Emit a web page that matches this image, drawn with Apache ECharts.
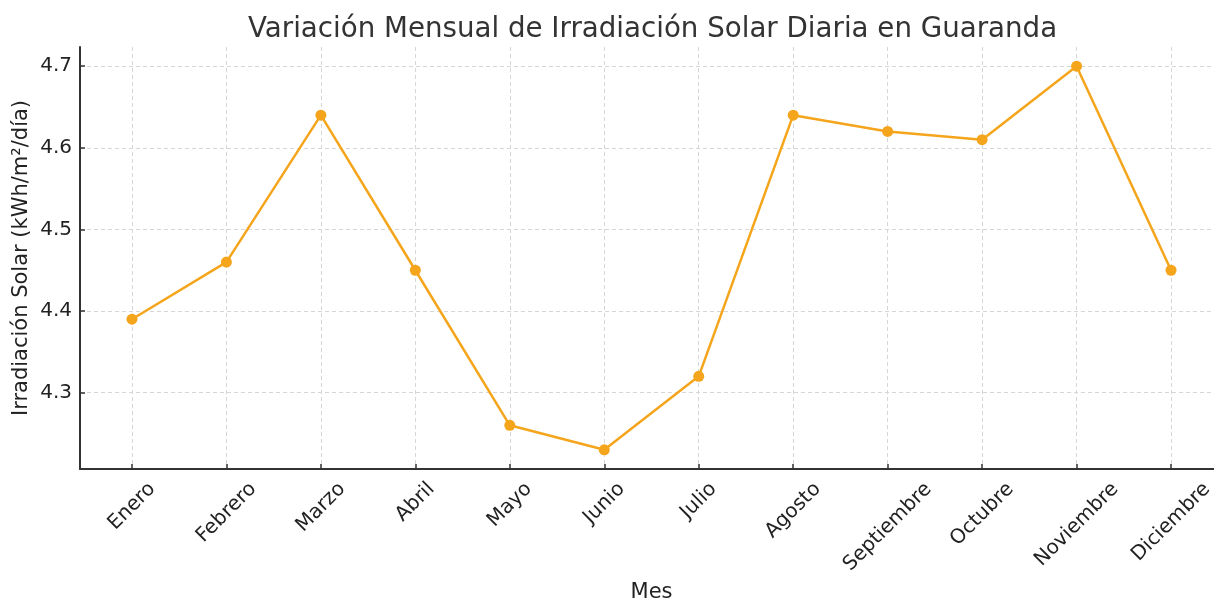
<!DOCTYPE html>
<html>
<head>
<meta charset="utf-8">
<script src="https://cdn.jsdelivr.net/npm/echarts@6/dist/echarts.min.js"></script>
<style>
  html, body { margin: 0; padding: 0; background: #fff; }
  #chart { width: 1214px; height: 599px; }
</style>
</head>
<body>
<div id="chart"></div>
<script>
// datos
const meses = ['Enero', 'Febrero', 'Marzo', 'Abril', 'Mayo', 'Junio', 'Julio',
  'Agosto', 'Septiembre', 'Octubre', 'Noviembre', 'Diciembre']
const irradiacion = [4.39, 4.46, 4.64, 4.45, 4.26, 4.23, 4.32, 4.64, 4.62, 4.61, 4.70, 4.45]
const yTicks = [4.3, 4.4, 4.5, 4.6, 4.7]
const xTicks = meses.map((m, i) => i)

const FONT = 'DejaVu Sans'
const LABEL_SIZE = 20
const ORANGE = '#f5a51c'

// ancho de cada etiqueta para centrarla como matplotlib (ha='center', rot=45)
const ctx = document.createElement('canvas').getContext('2d')
ctx.font = LABEL_SIZE + 'px "' + FONT + '"'
const rich = {}
meses.forEach((m, i) => {
  const w = ctx.measureText(m).width
  rich['m' + i] = { fontSize: LABEL_SIZE, fontFamily: FONT, color: '#222', padding: [w * 0.5, w * 0.5, 0, 0] }
})

const chart = echarts.init(document.getElementById('chart'))
chart.setOption({
  animation: false,
  backgroundColor: '#fff',
  title: {
    text: 'Variación Mensual de Irradiación Solar Diaria en Guaranda',
    left: 243,
    top: 11,
    textStyle: { fontFamily: FONT, fontSize: 27.7, fontWeight: 'normal', color: '#333' }
  },
  grid: { left: 80, right: -9, top: 47, bottom: 130, outerBoundsMode: 'none' },
  xAxis: {
    type: 'value',
    min: -0.55,
    max: 11.55,
    name: 'Mes',
    nameLocation: 'middle',
    nameGap: 113,
    nameMoveOverlap: false,
    nameTextStyle: { fontFamily: FONT, fontSize: 21, color: '#222' },
    axisLine: { show: true, onZero: false, lineStyle: { color: '#333', width: 2 } },
    axisTick: { show: true, inside: true, length: 5, customValues: xTicks, lineStyle: { color: '#333', width: 1.5 } },
    axisLabel: {
      customValues: xTicks,
      rotate: 45,
      align: 'center',
      verticalAlign: 'middle',
      margin: 17,
      formatter: v => '{m' + v + '|' + meses[v] + '}',
      rich: rich
    },
    splitLine: { show: true, lineStyle: { color: '#d6d6d6', type: [4, 3], width: 1 } }
  },
  yAxis: {
    type: 'value',
    min: 4.2065,
    max: 4.7235,
    name: 'Irradiación Solar (kWh/m²/día)',
    nameLocation: 'middle',
    nameGap: 48,
    nameMoveOverlap: false,
    nameTextStyle: { fontFamily: FONT, fontSize: 21, color: '#222' },
    axisLine: { show: true, onZero: false, lineStyle: { color: '#333', width: 2 } },
    axisTick: { show: true, inside: true, length: 5, customValues: yTicks, lineStyle: { color: '#333', width: 1.5 } },
    axisLabel: {
      customValues: yTicks,
      margin: 8,
      fontFamily: FONT,
      fontSize: 20,
      color: '#222',
      formatter: v => v.toFixed(1)
    },
    splitLine: { show: true, lineStyle: { color: '#d6d6d6', type: [4, 3], width: 1 } }
  },
  series: [{
    type: 'line',
    data: irradiacion.map((v, i) => [i, v]),
    symbol: 'circle',
    symbolSize: 11,
    lineStyle: { color: ORANGE, width: 2.5 },
    itemStyle: { color: ORANGE },
    clip: false
  }]
})
</script>
</body>
</html>
